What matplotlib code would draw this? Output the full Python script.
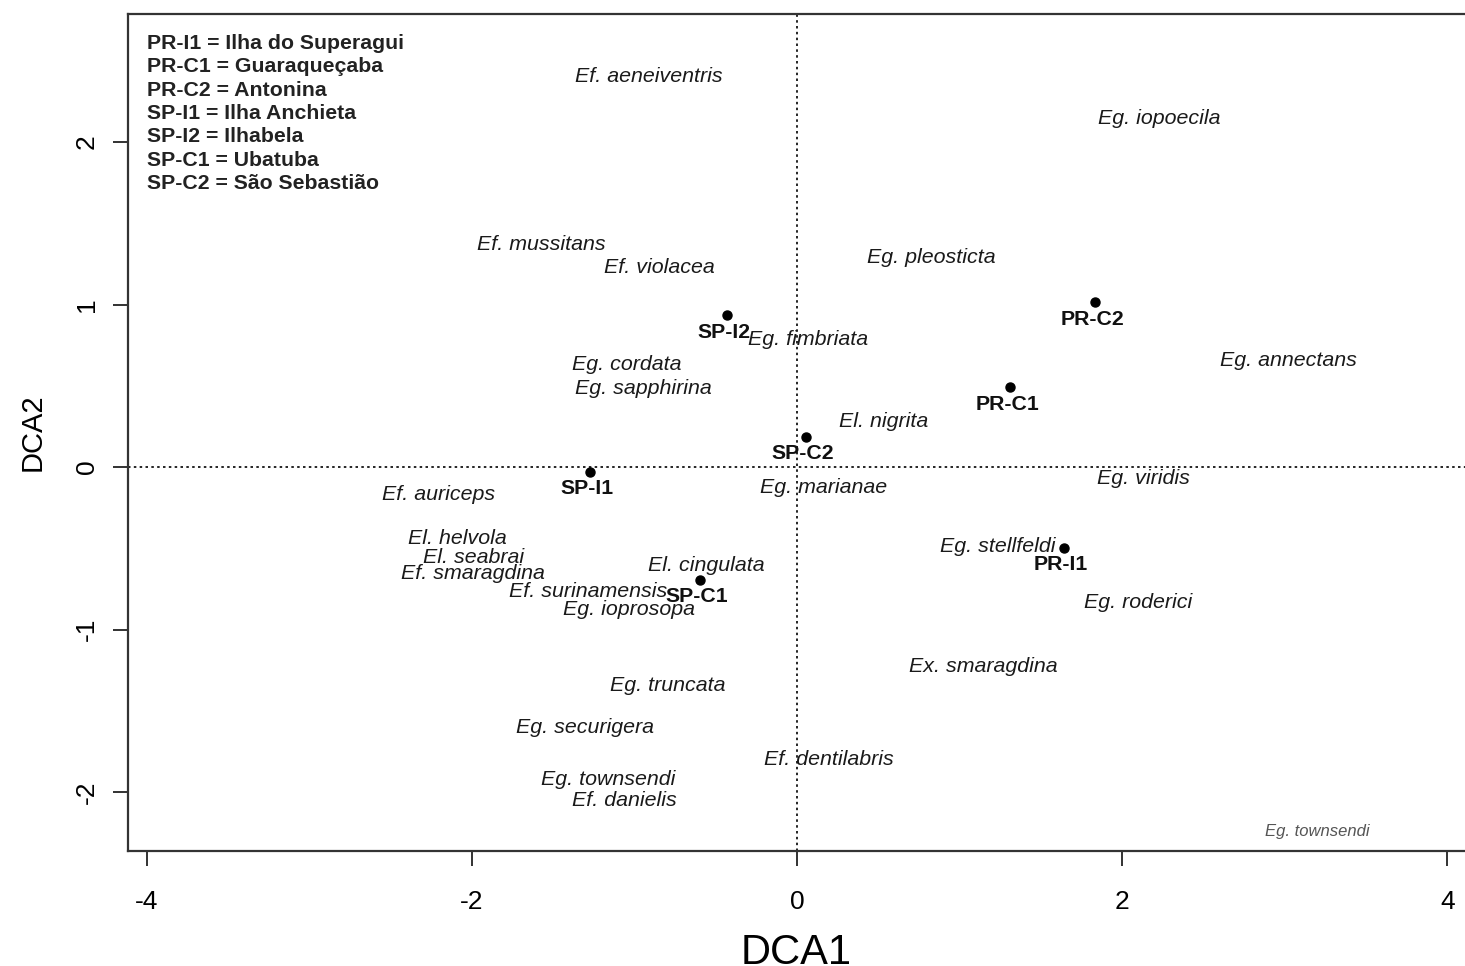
import matplotlib
matplotlib.use("Agg")
import matplotlib.pyplot as plt

plt.rcParams['font.family'] = ['Liberation Sans', 'DejaVu Sans']

# site scores (DCA1, DCA2)
site_names = ["SP-I2", "PR-C2", "PR-C1", "SP-C2", "SP-I1", "PR-I1", "SP-C1"]
site_x = [-0.43, 1.833, 1.31, 0.055, -1.273, 1.642, -0.597]
site_y = [0.935, 1.015, 0.49, 0.185, -0.03, -0.498, -0.695]

# species scores
species = ["Ef. aeneiventris", "Eg. iopoecila", "Ef. mussitans", "Ef. violacea",
           "Eg. pleosticta", "Eg. fimbriata", "Eg. annectans", "Eg. cordata",
           "Eg. sapphirina", "El. nigrita", "Ef. auriceps", "Eg. marianae",
           "Eg. viridis", "El. helvola", "El. seabrai", "Ef. smaragdina",
           "El. cingulata", "Eg. stellfeldi", "Ef. surinamensis", "Eg. ioprosopa",
           "Eg. roderici", "Ex. smaragdina", "Eg. truncata", "Eg. securigera",
           "Ef. dentilabris", "Eg. townsendi", "Ef. danielis"]
sp_x = [-0.910, 2.226, -1.574, -0.849, 0.824, 0.068, 3.020, -1.045, -0.947, 0.535,
        -2.202, 0.166, 2.128, -2.091, -1.986, -1.993, -0.560, 1.236, -1.285, -1.033,
        2.097, 1.144, -0.793, -1.304, 0.197, -1.162, -1.064]
sp_y = [2.406, 2.142, 1.372, 1.225, 1.292, 0.782, 0.658, 0.628, 0.486, 0.283,
        -0.166, -0.123, -0.068, -0.437, -0.554, -0.658, -0.609, -0.492, -0.763, -0.874,
        -0.831, -1.225, -1.342, -1.600, -1.797, -1.926, -2.055]

# the faint extra label in the corner
extra_label = "Eg. townsendi"
extra_x, extra_y = 3.198, -2.24

legend_lines = ["PR-I1 = Ilha do Superagui", "PR-C1 = Guaraqueçaba", "PR-C2 = Antonina",
                "SP-I1 = Ilha Anchieta", "SP-I2 = Ilhabela", "SP-C1 = Ubatuba",
                "SP-C2 = São Sebastião"]

fig = plt.figure(figsize=(14.65, 9.66), dpi=100)
ax = fig.add_axes([128 / 1465, 115 / 966, 1337 / 1465, 837 / 966])
ax.set_xlim(-4.114, 4.108)
ax.set_ylim(-2.363, 2.788)

ax.axhline(0, color='black', lw=1.2, ls=(0, (1.5, 2)))
ax.axvline(0, color='black', lw=1.2, ls=(0, (1.5, 2)))

ax.plot(site_x, site_y, 'o', color='black', ms=6.5)
for name, x, y in zip(site_names, site_x, site_y):
    ax.annotate(name, (x, y), xytext=(-3, -17), textcoords='offset pixels',
                ha='center', va='center', fontsize=15.3, fontweight='bold', color='#111111')

for name, x, y in zip(species, sp_x, sp_y):
    ax.text(x, y, name, ha='center', va='center', fontsize=15.4, style='italic', color='#1a1a1a')

ax.text(extra_x, extra_y, extra_label, ha='center', va='center', fontsize=12,
        style='italic', color='#555555')

ax.text(0.0142, 0.976, "\n".join(legend_lines), transform=ax.transAxes, ha='left', va='top',
        fontsize=15.3, fontweight='bold', color='#222222', linespacing=1.29)

for side in ['left', 'bottom', 'top']:
    ax.spines[side].set_linewidth(1.6)
    ax.spines[side].set_color('#333333')
ax.spines['right'].set_visible(False)

ax.set_xticks([-4, -2, 0, 2, 4])
ax.set_yticks([-2, -1, 0, 1, 2])
ax.set_xticklabels(['-4', '-2', '0', '2', '4'])
ax.set_yticklabels(['-2', '-1', '0', '1', '2'], rotation=90, va='center')
ax.tick_params(axis='both', length=11, width=1.3, color='#222222', labelsize=19)
ax.tick_params(axis='x', pad=17)
ax.tick_params(axis='y', pad=10)

ax.set_xlabel("DCA1", fontsize=30, labelpad=14)
ax.set_ylabel("DCA2", fontsize=21, labelpad=20)

fig.savefig("out.png", dpi=100)
